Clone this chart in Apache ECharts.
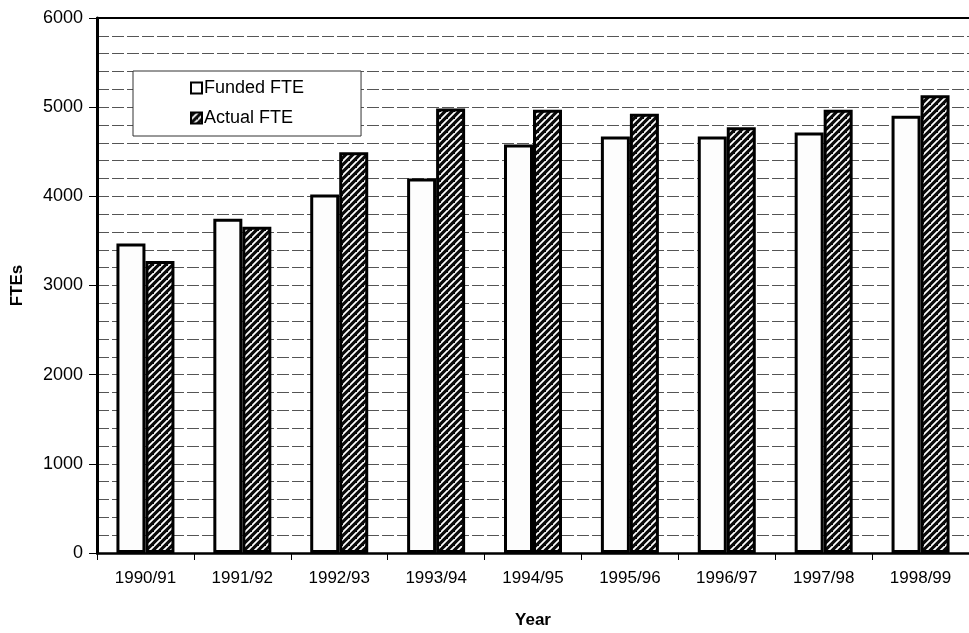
<!DOCTYPE html>
<html>
<head>
<meta charset="utf-8">
<script src="https://cdn.jsdelivr.net/npm/echarts@6/dist/echarts.min.js"></script>
<style>html,body{margin:0;padding:0;background:#fff;}#c{width:969px;height:633px;}</style>
</head>
<body>
<div id="c"></div>
<script>
var categories = ['1990/91','1991/92','1992/93','1993/94','1994/95','1995/96','1996/97','1997/98','1998/99'];
var fundedFTE = [3470, 3750, 4020, 4200, 4580, 4670, 4670, 4715, 4905];
var actualFTE = [3275, 3660, 4495, 4985, 4970, 4925, 4775, 4970, 5135];
var yTicks = [0, 1000, 2000, 3000, 4000, 5000, 6000];

function hatch() {
  var s = 7;
  var cv = document.createElement('canvas');
  cv.width = s; cv.height = s;
  var ctx = cv.getContext('2d');
  ctx.fillStyle = '#0a0a0a';
  ctx.fillRect(0, 0, s, s);
  ctx.strokeStyle = '#fff';
  ctx.lineWidth = 1.8;
  ctx.beginPath();
  ctx.moveTo(-1, s + 1); ctx.lineTo(s + 1, -1);
  ctx.moveTo(-1 - s, s + 1); ctx.lineTo(1, -1);
  ctx.moveTo(s - 1, 2 * s + 1); ctx.lineTo(2 * s + 1, s - 1);
  ctx.stroke();
  return cv;
}

var font = "'Liberation Sans', Arial, sans-serif";
var chart = echarts.init(document.getElementById('c'), null, {renderer: 'canvas'});
chart.setOption({
  animation: false,
  backgroundColor: '#fff',
  textStyle: {fontFamily: font},
  grid: {left: 97, right: 0, top: 18, bottom: 80, containLabel: false, outerBoundsMode: 'none'},
  legend: {
    orient: 'vertical',
    left: 133, top: 71,
    width: 228,
    padding: [8, 57, 9, 57],
    backgroundColor: '#fff',
    borderColor: '#333',
    borderWidth: 1,
    icon: 'rect',
    itemWidth: 11, itemHeight: 11, itemGap: 12,
    textStyle: {fontFamily: font, fontSize: 18, color: '#000', padding: [0, 0, 0, -3]},
    data: ['Funded FTE', 'Actual FTE']
  },
  xAxis: [{
    type: 'category',
    data: categories,
    name: 'Year',
    nameLocation: 'middle',
    nameGap: 59,
    nameTextStyle: {fontFamily: font, fontSize: 17, fontWeight: 'bold', color: '#000'},
    axisLine: {lineStyle: {color: '#000', width: 2.5}},
    axisTick: {show: true, length: 7, lineStyle: {color: '#000', width: 1}},
    axisLabel: {fontFamily: font, fontSize: 17, color: '#000', margin: 17}
  }, {
    type: 'category',
    position: 'top',
    data: categories,
    axisLine: {show: true, lineStyle: {color: '#000', width: 2}},
    axisTick: {show: false},
    axisLabel: {show: false}
  }],
  yAxis: {
    type: 'value',
    min: yTicks[0], max: yTicks[yTicks.length - 1], interval: 1000,
    name: 'FTEs',
    nameLocation: 'middle',
    nameGap: 71,
    nameTextStyle: {fontFamily: font, fontSize: 17, fontWeight: 'bold', color: '#000'},
    axisLine: {show: true, lineStyle: {color: '#000', width: 3}},
    axisTick: {show: true, length: 8, lineStyle: {color: '#000', width: 1}},
    axisLabel: {fontFamily: font, fontSize: 18, color: '#000', margin: 14,
      formatter: function (v) { return String(v); }},
    splitLine: {show: true, lineStyle: {color: '#555', width: 1, type: [12, 3]}},
    minorTick: {show: false, splitNumber: 5},
    minorSplitLine: {show: true, lineStyle: {color: '#555', width: 1, type: [12, 3]}}
  },
  series: [{
    name: 'Funded FTE',
    type: 'bar',
    data: fundedFTE,
    barWidth: 29,
    barGap: '0%',
    itemStyle: {color: '#fdfdfd', borderColor: '#000', borderWidth: 3}
  }, {
    name: 'Actual FTE',
    type: 'bar',
    data: actualFTE,
    barWidth: 29,
    barGap: '0%',
    itemStyle: {color: {image: hatch(), repeat: 'repeat'}, borderColor: '#000', borderWidth: 3}
  }]
});
</script>
</body>
</html>
